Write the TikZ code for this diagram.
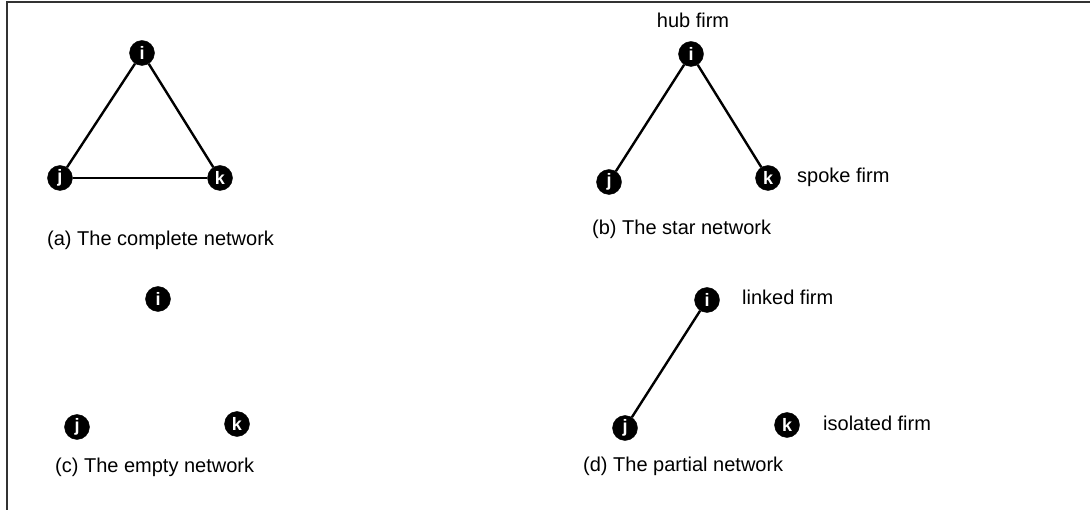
\documentclass[tikz,border=0pt]{standalone}
\usepackage{fontspec}
\setmainfont{Liberation Sans}
\begin{document}
\begin{tikzpicture}[x=1pt,y=-1pt,
  firm/.style={circle,fill=black,draw=black,inner sep=0pt,minimum size=25pt,
    text=white,font=\fontsize{18}{18}\selectfont\bfseries},
  link/.style={line width=2.4pt,black},
  lbl/.style={anchor=west,inner sep=0pt,font=\fontsize{20}{22}\selectfont},
  frame/.style={line width=2pt,black!80}]
\useasboundingbox (0,0) rectangle (1090,510);
% outer frame: top and left edges only
\draw[frame] (7,510) -- (7,2) -- (1090,2);

% (a) complete network
\node[firm] (ai) at (142,53) {i};
\node[firm] (aj) at (60,178) {j};
\node[firm] (ak) at (220,178) {k};
\draw[link] (ai) -- (aj);
\draw[link] (ai) -- (ak);
\draw[link] (aj) -- (ak);
\node[lbl] (acap) at (47,240) {(a) The complete network};

% (b) star network
\node[firm] (bi) at (691,54) {i};
\node[firm] (bj) at (609,182) {j};
\node[firm] (bk) at (768,178) {k};
\draw[link] (bi) -- (bj);
\draw[link] (bi) -- (bk);
\node[inner sep=0pt,font=\fontsize{20}{22}\selectfont] (hub) at (693,20) {hub firm};
\node[lbl] (spoke) at (797,177) {spoke firm};
\node[lbl] (bcap) at (592,229) {(b) The star network};

% (c) empty network
\node[firm] (ci) at (158,299) {i};
\node[firm] (cj) at (77,427) {j};
\node[firm] (ck) at (237,424) {k};
\node[lbl] (ccap) at (55,467) {(c) The empty network};

% (d) partial network
\node[firm] (di) at (707,300) {i};
\node[firm] (dj) at (625,428) {j};
\node[firm] (dk) at (787,425) {k};
\draw[link] (di) -- (dj);
\node[lbl] (linked) at (742,297) {linked firm};
\node[lbl] (isolated) at (823,423) {isolated firm};
\node[lbl] (dcap) at (583,466) {(d) The partial network};
\end{tikzpicture}
\end{document}
